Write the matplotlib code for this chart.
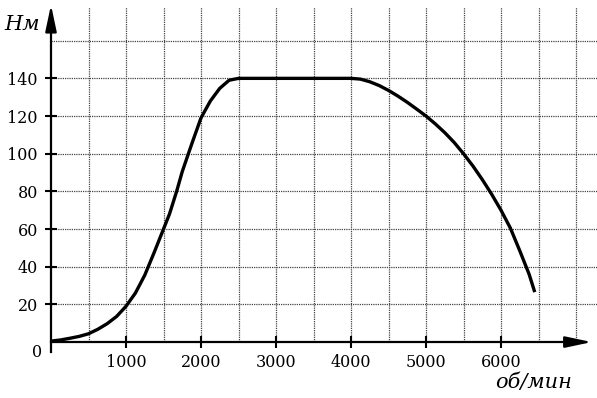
import matplotlib
matplotlib.use('Agg')
import matplotlib.pyplot as plt
import numpy as np

# torque curve
rpm = [0, 125, 250, 375, 500, 625, 750, 875, 1000, 1125, 1250, 1375, 1500, 1580, 1675, 1750,
       1875, 2000, 2125, 2250, 2375, 2500,
       4000, 4125, 4250, 4375, 4500, 4625, 4750, 4875, 5000, 5125, 5250, 5375, 5500,
       5625, 5750, 5875, 6000, 6125, 6250, 6375, 6450]
torque = [0.5, 1.1, 2, 3, 4.4, 6.8, 9.8, 13.6, 19, 26, 35.5, 47.5, 60, 68, 80, 90.5,
          105, 119, 128, 134.7, 139, 140,
          140, 139.6, 138.2, 136.2, 133.6, 130.6, 127.3, 123.7, 120, 115.8, 111.2, 106, 100,
          93.5, 86.3, 78.5, 70, 60.5, 48.5, 36, 26.5]

x_ticks = [1000, 2000, 3000, 4000, 5000, 6000]
y_ticks = [20, 40, 60, 80, 100, 120, 140]
x_grid = np.arange(500, 7001, 500)
y_grid = np.arange(20, 161, 20)

plt.rcParams['font.family'] = ['DejaVu Serif']

fig = plt.figure(figsize=(5.97, 3.98), dpi=100)
ax = fig.add_axes([51 / 597, 42 / 398, 546 / 597, 356 / 398])
ax.set_xlim(0, 7280)
ax.set_ylim(-7.4, 181.6)

# grid drawn by hand so it stops at the axes
grid_kw = dict(color='#444444', linewidth=0.9, linestyle=(0, (1, 0.8)), zorder=1)
ax.vlines(x_grid, 0, 178, **grid_kw)
ax.hlines(y_grid, 0, 7280, **grid_kw)

ax.plot(rpm, torque, color='black', linewidth=2.4, solid_capstyle='butt',
        solid_joinstyle='round', zorder=3)

for s in ['top', 'right']:
    ax.spines[s].set_visible(False)
ax.spines['bottom'].set_position(('data', 0))
ax.spines['left'].set_position(('data', 0))
ax.spines['bottom'].set_bounds(0, 7000)
ax.spines['left'].set_bounds(-5.5, 170)
for s in ['bottom', 'left']:
    ax.spines[s].set_linewidth(1.6)

arrow_kw = dict(arrowstyle='-|>,head_length=0.8,head_width=0.17',
                mutation_scale=20, color='black', lw=1.6, shrinkA=0, shrinkB=0)
ax.annotate('', xy=(7210, 0), xytext=(6900, 0), annotation_clip=False, arrowprops=arrow_kw)
ax.annotate('', xy=(0, 179), xytext=(0, 165), annotation_clip=False, arrowprops=arrow_kw)

ax.set_xticks(x_ticks)
ax.set_yticks(y_ticks)
ax.tick_params(direction='inout', length=9, width=1.5, labelsize=11.5)
ax.tick_params(axis='x', pad=4)
ax.tick_params(axis='y', pad=5)

ax.text(-120, -5.6, '0', ha='right', va='center', fontsize=11.5)
fig.text(4 / 597, 1 - 25 / 398, 'Нм', ha='left', va='center', fontsize=15, style='italic')
fig.text(572 / 597, 1 - 383 / 398, 'об/мин', ha='right', va='center', fontsize=15, style='italic')

fig.savefig('out.png', dpi=100)
